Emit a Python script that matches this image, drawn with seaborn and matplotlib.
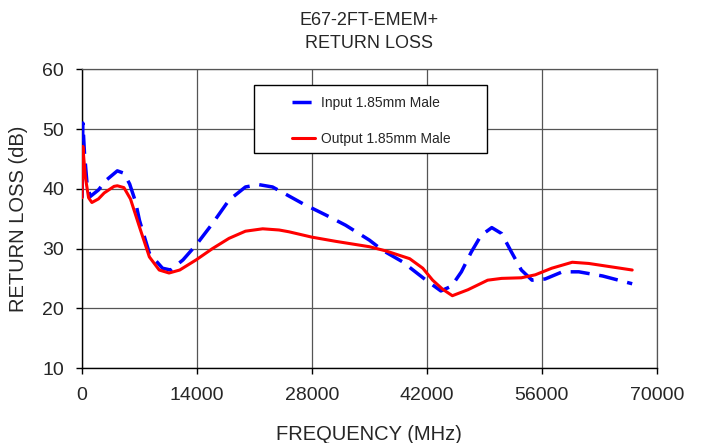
import pandas as pd
import seaborn as sns
import matplotlib.pyplot as plt
from matplotlib.patches import Rectangle

# values
input_freq = [10, 100, 300, 600, 1000, 2000, 3000, 4300, 5100, 5800, 6500, 7000,
              8200, 9800, 10800, 12300, 13900, 15900, 17900, 19900, 21500, 23200,
              24400, 26900, 29700, 32100, 35000, 36600, 39000, 41900, 43700, 45000,
              46200, 47400, 48600, 49900, 51100, 52300, 53500, 54800, 56400, 58500,
              60500, 63400, 67000]
input_rl = [38.5, 51.0, 46.0, 41.0, 38.7, 39.8, 41.5, 43.0, 42.6, 40.8, 37.9, 34.7,
            29.2, 26.7, 26.4, 28.1, 30.6, 34.2, 38.1, 40.3, 40.7, 40.3,
            39.4, 37.5, 35.6, 33.9, 31.4, 29.7, 27.8, 24.7, 22.9, 23.7,
            26.1, 29.4, 32.2, 33.5, 32.5, 29.4, 26.4, 24.7, 24.9, 26.1,
            26.1, 25.4, 24.1]

output_freq = [10, 100, 400, 800, 1200, 2000, 2700, 3900, 4300, 5100, 5900, 7000,
               8200, 9400, 10600, 11900, 13900, 15900, 17900, 19900, 22000, 24000,
               25200, 28000, 30900, 35000, 37000, 39900, 41500, 42700, 43900, 45100,
               47000, 49400, 51100, 53500, 55200, 57200, 59700, 61700, 64600, 67000]
output_rl = [38.5, 47.1, 42.0, 38.5, 37.7, 38.3, 39.3, 40.4, 40.5, 40.2, 38.3, 33.6,
             28.6, 26.4, 25.9, 26.4, 28.1, 30.0, 31.7, 32.9, 33.3, 33.1,
             32.8, 31.9, 31.2, 30.3, 29.6, 28.3, 26.7, 24.7, 23.2, 22.1,
             23.1, 24.7, 25.0, 25.1, 25.6, 26.7, 27.7, 27.5, 26.9, 26.4]

x_ticks = [0, 14000, 28000, 42000, 56000, 70000]
y_ticks = [10, 20, 30, 40, 50, 60]

df_in = pd.DataFrame({"freq": input_freq, "rl": input_rl})
df_out = pd.DataFrame({"freq": output_freq, "rl": output_rl})

sns.set_style("white")
plt.rcParams["font.family"] = ["Liberation Sans", "DejaVu Sans"]

fig = plt.figure(figsize=(7.04, 4.43), dpi=100)
ax = fig.add_axes([0.1165, 0.1693, 0.8165, 0.6743])

sns.lineplot(data=df_in, x="freq", y="rl", ax=ax, color="#0000FF", linewidth=2.5,
             linestyle=(0, (5.5, 2.8)), sort=False, estimator=None,
             label="Input 1.85mm Male", zorder=4)
sns.lineplot(data=df_out, x="freq", y="rl", ax=ax, color="#FF0000", linewidth=2.2,
             sort=False, estimator=None, label="Output 1.85mm Male", zorder=4)

ax.set_xlim(0, 70000)
ax.set_ylim(10, 60)
ax.set_xticks(x_ticks)
ax.set_yticks(y_ticks)
ax.grid(True, color="#555555", linewidth=0.9)
ax.set_axisbelow(True)
for s in ["top", "right"]:
    ax.spines[s].set_color("#555555")
    ax.spines[s].set_linewidth(0.9)
for s in ["left", "bottom"]:
    ax.spines[s].set_color("black")
    ax.spines[s].set_linewidth(1.0)
ax.tick_params(axis="both", direction="out", length=4, width=1, color="black",
               labelsize=14, left=True, bottom=True)
ax.tick_params(axis="x", pad=10)
ax.tick_params(axis="y", pad=9)

ax.set_xlabel("FREQUENCY (MHz)", fontsize=14.5, labelpad=15)
ax.set_ylabel("RETURN LOSS (dB)", fontsize=14.5, labelpad=10)
ax.set_title("E67-2FT-EMEM+\nRETURN LOSS", fontsize=13, pad=15, linespacing=1.5)

# legend box
ax.add_patch(Rectangle((0.299, 0.7208), 0.4047, 0.2277, transform=ax.transAxes,
                       facecolor="white", edgecolor="black", linewidth=1.0, zorder=5))
ax.legend(loc="upper left", bbox_to_anchor=(0.3647, 0.912), frameon=False,
          fontsize=10, handlelength=1.7, handletextpad=0.4, labelspacing=1.6,
          borderpad=0, borderaxespad=0).set_zorder(6)

plt.savefig("out.png", dpi=100)
plt.close()
